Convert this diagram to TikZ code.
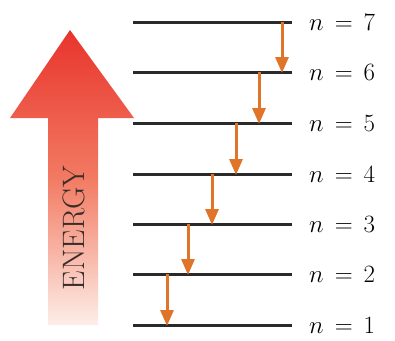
\documentclass[tikz,border=0pt]{standalone}
\usetikzlibrary{arrows.meta}
\definecolor{arrowred}{HTML}{E8342C}
\definecolor{arrowmid}{HTML}{F27A62}
\definecolor{arrowpale}{HTML}{FDEEE8}
\definecolor{trans}{HTML}{E07428}
\definecolor{levelcol}{HTML}{2A2A2A}
\definecolor{textcol}{HTML}{3A2C2A}
\begin{document}
\begin{tikzpicture}[x=1pt,y=-1pt,
  level/.style={draw=levelcol,line width=3pt},
  trarrow/.style={draw=trans,line width=3pt,-{Triangle[length=16pt,width=13pt]},shorten >=-1pt},
  lvlabel/.style={anchor=west,inner sep=0pt,font=\fontsize{28}{30}\selectfont}]
\useasboundingbox (0,0) rectangle (395,340);
% big energy arrow
\shade[top color=arrowred,bottom color=arrowpale,middle color=arrowmid]
  (70,30) -- (134,118) -- (98,118) -- (98,325) -- (48,325) -- (48,118) -- (10,118) -- cycle;
\node[rotate=90,text=textcol,font=\fontsize{31}{33}\selectfont,inner sep=0pt] (energy) at (74,228) {ENERGY};
% levels
\foreach \i/\y in {1/325,2/274,3/224,4/174,5/123,6/72,7/22}{
  \coordinate (L\i) at (133,\y);
  \coordinate (R\i) at (292,\y);
  \draw[level] (L\i) -- (R\i);
  \node[lvlabel] (lab\i) at (309,\y) {$n\,=\,\i$};
}
% transitions
\foreach \a/\b/\x in {7/6/282,6/5/259,5/4/236,4/3/212,3/2/188,2/1/167}{
  \coordinate (s\a) at (\x,0 |- L\a);
  \coordinate (e\a) at (\x,0 |- L\b);
  \draw[trarrow] (s\a) -- (e\a);
}
\end{tikzpicture}
\end{document}
